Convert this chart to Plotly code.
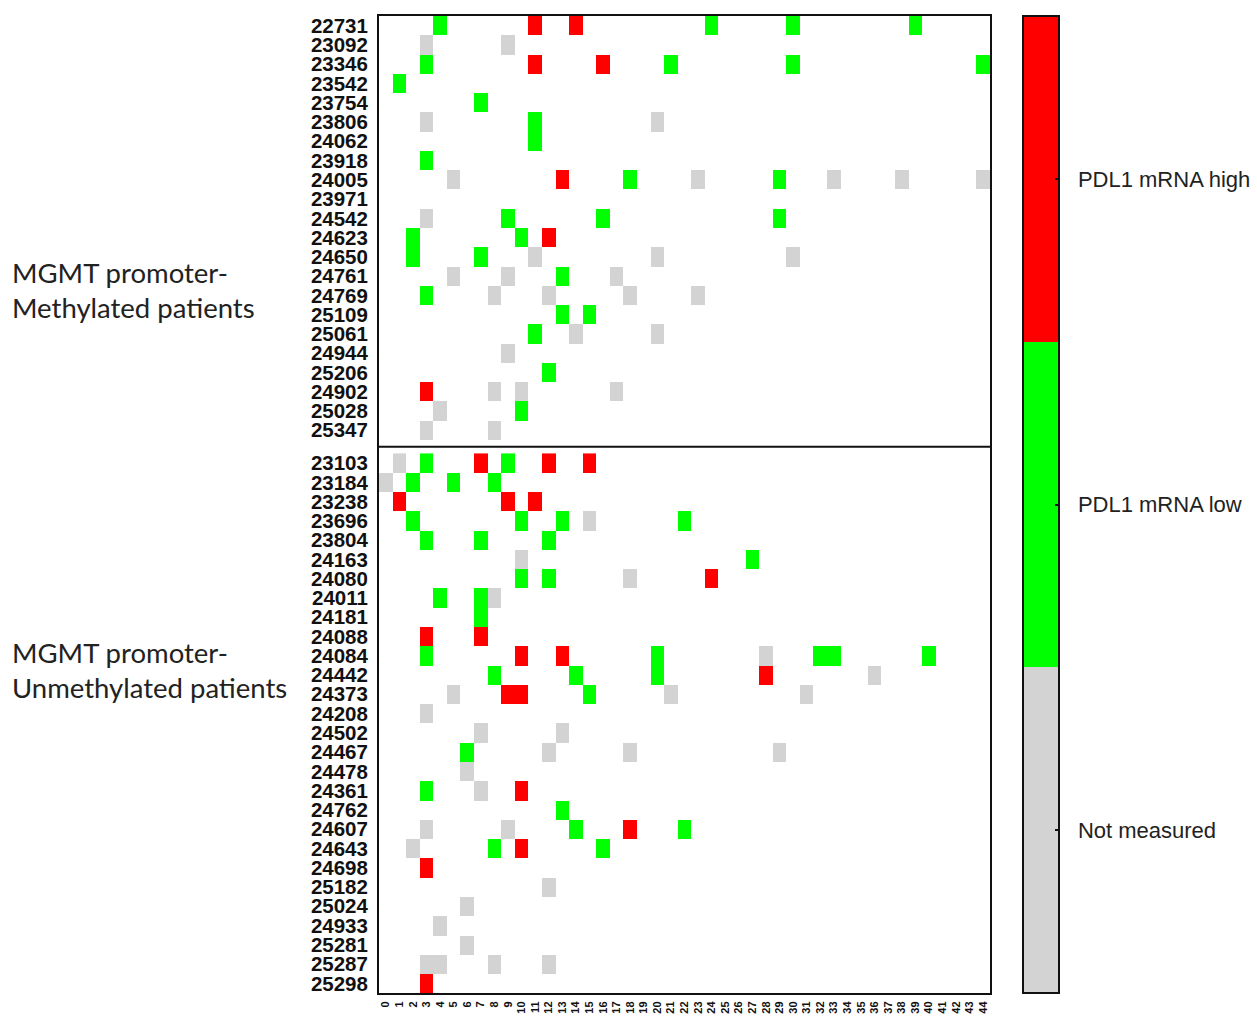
import plotly.graph_objects as go

# PD-L1 mRNA status per patient and sample index.
# Codes: n = not measured, g = PDL1 mRNA low, r = PDL1 mRNA high
methylated_ids = [
    "22731", "23092", "23346", "23542", "23754", "23806", "24062", "23918",
    "24005", "23971", "24542", "24623", "24650", "24761", "24769", "25109",
    "25061", "24944", "25206", "24902", "25028", "25347",
]
methylated_cells = [
    "4g 11r 14r 24g 30g 39g",
    "3n 9n",
    "3g 11r 16r 21g 30g 44g",
    "1g",
    "7g",
    "3n 11g 20n",
    "11g",
    "3g",
    "5n 13r 18g 23n 29g 33n 38n 44n",
    "",
    "3n 9g 16g 29g",
    "2g 10g 12r",
    "2g 7g 11n 20n 30n",
    "5n 9n 13g 17n",
    "3g 8n 12n 18n 23n",
    "13g 15g",
    "11g 14n 20n",
    "9n",
    "12g",
    "3r 8n 10n 17n",
    "4n 10g",
    "3n 8n",
]

unmethylated_ids = [
    "23103", "23184", "23238", "23696", "23804", "24163", "24080", "24011",
    "24181", "24088", "24084", "24442", "24373", "24208", "24502", "24467",
    "24478", "24361", "24762", "24607", "24643", "24698", "25182", "25024",
    "24933", "25281", "25287", "25298",
]
unmethylated_cells = [
    "1n 3g 7r 9g 12r 15r",
    "0n 2g 5g 8g",
    "1r 9r 11r",
    "2g 10g 13g 15n 22g",
    "3g 7g 12g",
    "10n 27g",
    "10g 12g 18n 24r",
    "4g 7g 8n",
    "7g",
    "3r 7r",
    "3g 10r 13r 20g 28n 32g 33g 40g",
    "8g 14g 20g 28r 36n",
    "5n 9r 10r 15g 21n 31n",
    "3n",
    "7n 13n",
    "6g 12n 18n 29n",
    "6n",
    "3g 7n 10r",
    "13g",
    "3n 9n 14g 18r 22g",
    "2n 8g 10r 16g",
    "3r",
    "12n",
    "6n",
    "4n",
    "6n",
    "3n 4n 8n 12n",
    "3r",
]

samples = list(range(45))
sample_labels = [str(s) for s in samples]

status_codes = {"n": 0, "g": 1, "r": 2}
status_labels = ["Not measured", "PDL1 mRNA low", "PDL1 mRNA high"]
status_colors = ["#D3D3D3", "#00FF00", "#FF0000"]


def build_matrix(rows):
    z = []
    for row in rows:
        line = [None] * len(samples)
        for item in row.split():
            line[int(item[:-1])] = status_codes[item[-1]]
        z.append(line)
    return z


# Discrete three-step colour scale
colorscale = []
for i, c in enumerate(status_colors):
    colorscale.append([i / 3, c])
    colorscale.append([(i + 1) / 3, c])

group_gap = 0.7
y_top = list(range(len(methylated_ids)))
y_bottom = [len(methylated_ids) + group_gap + i for i in range(len(unmethylated_ids))]

bar_common = dict(
    x=1.054, xanchor="left", y=0.5, yanchor="middle", len=1, lenmode="fraction",
    thickness=36, xpad=0, ypad=0, outlinewidth=2, outlinecolor="#111",
    tickmode="array", tickvals=[0, 1, 2],
)

fig = go.Figure()
# Labelled colour bar (white outside ticks keep the labels clear of the bar)
fig.add_trace(go.Heatmap(
    z=build_matrix(methylated_cells), x=samples, y=y_top,
    zmin=-0.5, zmax=2.5, colorscale=colorscale, hoverongaps=False,
    colorbar=dict(
        **bar_common, ticktext=status_labels,
        ticks="outside", ticklen=14, tickcolor="white",
        tickfont=dict(family="Liberation Sans, Arial, sans-serif", size=22, color="#222"),
    ),
))
# Same colour bar drawn on top with short inner tick marks
fig.add_trace(go.Heatmap(
    z=build_matrix(unmethylated_cells), x=samples, y=y_bottom,
    zmin=-0.5, zmax=2.5, colorscale=colorscale, hoverongaps=False,
    colorbar=dict(
        **bar_common, showticklabels=False,
        ticks="inside", ticklen=5, tickwidth=2, tickcolor="#111",
    ),
))

# Separator between the two patient groups
sep_y = len(methylated_ids) - 0.5 + group_gap / 2
fig.add_shape(type="line", xref="paper", x0=0, x1=1, yref="y", y0=sep_y, y1=sep_y,
              line=dict(color="#111", width=2))

label_font = dict(family="Lato, Carlito, sans-serif", size=27.5, color="#222")
for text, ypos in [
    ("MGMT promoter-", 0.7376),
    ("Methylated patients", 0.7018),
    ("MGMT promoter-", 0.3487),
    ("Unmethylated patients", 0.3129),
]:
    fig.add_annotation(text=text, xref="paper", yref="paper", x=-0.6045, y=ypos,
                       xanchor="left", yanchor="middle", showarrow=False, font=label_font)

fig.update_xaxes(
    range=[-0.5, 44.5], tickmode="array", tickvals=samples, ticktext=sample_labels,
    tickangle=-90, tickfont=dict(family="Liberation Sans, Arial, sans-serif", size=11, color="#111", weight="bold"),
    showgrid=False, zeroline=False, showline=True, linewidth=2, linecolor="#111", mirror=True,
    ticks="", ticklabelstandoff=2,
)
fig.update_yaxes(
    range=[y_bottom[-1] + 0.5, -0.5], tickmode="array",
    tickvals=y_top + y_bottom, ticktext=methylated_ids + unmethylated_ids,
    tickfont=dict(family="Liberation Sans, Arial, sans-serif", size=20.5, color="#111", weight="bold"),
    showgrid=False, zeroline=False, showline=True, linewidth=2, linecolor="#111", mirror=True,
    ticks="", ticklabelstandoff=5,
)

fig.update_layout(
    width=1257, height=1018,
    margin=dict(l=379, r=267, t=16, b=25, autoexpand=False),
    plot_bgcolor="white", paper_bgcolor="white",
)

fig.write_html("out.html")
